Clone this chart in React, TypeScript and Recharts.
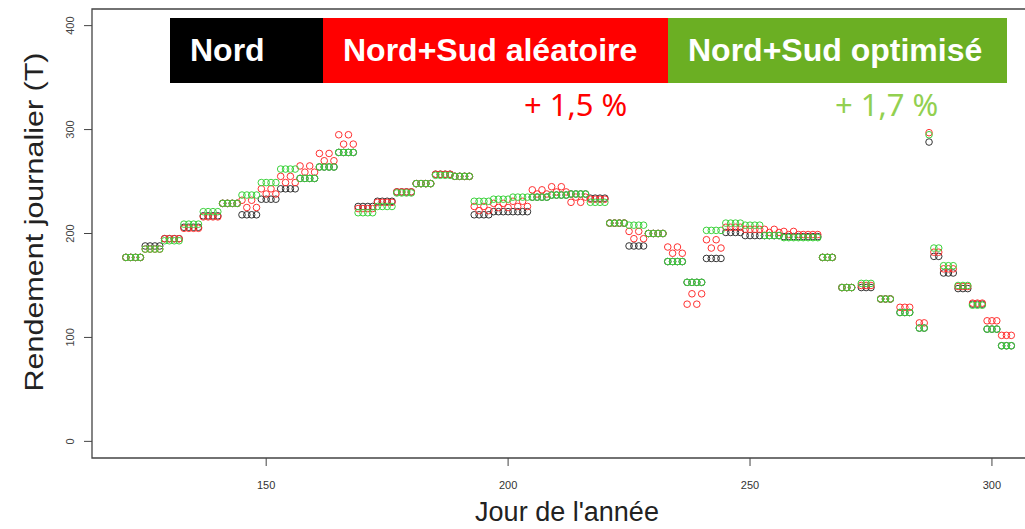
import { ScatterChart, Scatter, XAxis, YAxis, ReferenceArea } from 'recharts';

// jours de l'année (axe x)
const days = [
  121, 122, 123, 124, 125, 126, 127, 128, 129, 130, 131, 132,
  133, 134, 135, 136, 137, 138, 139, 140, 141, 142, 143, 144,
  145, 146, 147, 148, 149, 150, 151, 152, 153, 154, 155, 156,
  157, 158, 159, 160, 161, 162, 163, 164, 165, 166, 167, 168,
  169, 170, 171, 172, 173, 174, 175, 176, 177, 178, 179, 180,
  181, 182, 183, 184, 185, 186, 187, 188, 189, 190, 191, 192,
  193, 194, 195, 196, 197, 198, 199, 200, 201, 202, 203, 204,
  205, 206, 207, 208, 209, 210, 211, 212, 213, 214, 215, 216,
  217, 218, 219, 220, 221, 222, 223, 224, 225, 226, 227, 228,
  229, 230, 231, 232, 233, 234, 235, 236, 237, 238, 239, 240,
  241, 242, 243, 244, 245, 246, 247, 248, 249, 250, 251, 252,
  253, 254, 255, 256, 257, 258, 259, 260, 261, 262, 263, 264,
  265, 266, 267, 269, 270, 271, 273, 274, 275, 277, 278, 279,
  281, 282, 283, 285, 286, 287, 288, 289, 290, 291, 292,
  293, 294, 295, 296, 297, 298, 299, 300, 301, 302, 303, 304,
];

const nord = [
  177, 177, 177, 177, 188, 188, 188, 188, 195, 195, 195, 195,
  206, 206, 206, 206, 217, 217, 217, 217, 229, 229, 229, 229,
  218, 218, 218, 218, 233, 233, 233, 233, 243, 243, 243, 243,
  253, 253, 253, 253, 264, 264, 264, 264, 278, 278, 278, 278,
  226, 226, 226, 226, 231, 231, 231, 231, 240, 240, 240, 240,
  248, 248, 248, 248, 257, 257, 257, 257, 255, 255, 255, 255,
  218, 218, 218, 218, 221, 221, 221, 221, 221, 221, 221, 221,
  235, 235, 235, 235, 237, 237, 237, 237, 238, 238, 238, 238,
  234, 234, 234, 234, 210, 210, 210, 210, 188, 188, 188, 188,
  200, 200, 200, 200, 173, 173, 173, 173, 153, 153, 153, 153,
  176, 176, 176, 176, 201, 201, 201, 201, 198, 198, 198, 198,
  198, 198, 198, 198, 197, 197, 197, 197, 197, 197, 197, 197,
  177, 177, 177, 148, 148, 148, 148, 148, 148, 137, 137, 137,
  124, 124, 124, 109, 109, 288, 178, 178, 162, 162, 162,
  147, 147, 147, 132, 132, 132, 108, 108, 108, 92, 92, 92,
];

const aleatoire = [
  177, 177, 177, 177, 185, 185, 185, 185, 195, 195, 195, 195,
  205, 205, 205, 205, 216, 216, 216, 216, 229, 229, 229, 229,
  232, 225, 232, 225, 243, 238, 243, 238, 255, 249, 255, 249,
  265, 259, 265, 259, 277, 270, 277, 270, 295, 286, 295, 286,
  224, 224, 224, 224, 230, 230, 230, 230, 240, 240, 240, 240,
  248, 248, 248, 248, 257, 257, 257, 257, 255, 255, 255, 255,
  226, 222, 226, 222, 229, 225, 229, 225, 231, 226, 231, 226,
  242, 238, 242, 238, 245, 240, 245, 240, 230, 235, 230, 235,
  233, 233, 233, 233, 210, 210, 210, 210, 202, 195, 202, 195,
  200, 200, 200, 200, 187, 181, 187, 181, 132, 142, 132, 142,
  194, 186, 194, 186, 206, 206, 206, 206, 204, 204, 204, 204,
  204, 201, 204, 201, 202, 199, 202, 199, 199, 199, 199, 199,
  177, 177, 177, 148, 148, 148, 150, 150, 150, 137, 137, 137,
  129, 129, 129, 114, 114, 297, 182, 182, 166, 166, 166,
  149, 149, 149, 133, 133, 133, 116, 116, 116, 102, 102, 102,
];

const optimise = [
  177, 177, 177, 177, 185, 185, 185, 185, 193, 193, 193, 193,
  209, 209, 209, 209, 221, 221, 221, 221, 229, 229, 229, 229,
  237, 237, 237, 237, 249, 249, 249, 249, 262, 262, 262, 262,
  253, 253, 253, 253, 264, 264, 264, 264, 278, 278, 278, 278,
  220, 220, 220, 220, 226, 226, 226, 226, 239, 239, 239, 239,
  248, 248, 248, 248, 256, 256, 256, 256, 255, 255, 255, 255,
  231, 231, 231, 231, 233, 233, 233, 233, 235, 235, 235, 235,
  235, 235, 235, 235, 237, 237, 237, 237, 238, 238, 238, 238,
  230, 230, 230, 230, 210, 210, 210, 210, 208, 208, 208, 208,
  200, 200, 200, 200, 173, 173, 173, 173, 153, 153, 153, 153,
  203, 203, 203, 203, 210, 210, 210, 210, 208, 208, 208, 208,
  198, 198, 198, 198, 196, 196, 196, 196, 196, 196, 196, 196,
  177, 177, 177, 148, 148, 148, 152, 152, 152, 137, 137, 137,
  124, 124, 124, 109, 109, 295, 186, 186, 169, 169, 169,
  150, 150, 150, 131, 131, 131, 108, 108, 108, 92, 92, 92,
];

const xTicks = [150, 200, 250, 300];
const yTicks = [0, 100, 200, 300, 400];

const FONT = 'Liberation Sans, Arial, sans-serif';

const toPoints = (vals: number[]) => days.map((d, i) => ({ day: d, v: vals[i] }));

const ring = (color: string) => (props: any) => (
  <circle cx={props.cx} cy={props.cy} r={3.3} fill="none" stroke={color} strokeWidth={1} />
);

const YTick = ({ x, y, payload }: any) => (
  <g transform={`translate(${x - 12},${y}) rotate(-90)`}>
    <text textAnchor="middle" dominantBaseline="central" fontSize={11} fill="#444" fontFamily={FONT}>
      {payload.value}
    </text>
  </g>
);

const XTick = ({ x, y, payload }: any) => (
  <text x={x} y={y + 5} textAnchor="middle" dominantBaseline="central" fontSize={11} fill="#333" stroke="none" fontFamily={FONT}>
    {payload.value}
  </text>
);

const banner = { position: 'absolute' as const, top: 18, height: 65, color: '#fff', fontWeight: 700, fontSize: 32, fontFamily: FONT, display: 'flex', alignItems: 'center', paddingLeft: 20, boxSizing: 'border-box' as const, whiteSpace: 'nowrap' as const };

export default function App() {
  return (
    <div style={{ position: 'fixed', top: 0, left: 0, width: 1025, height: 529, overflow: 'hidden', background: '#fff' }}>
      <ScatterChart width={1050} height={529} margin={{ top: 9, right: 0, bottom: 0, left: 0 }}>
        <XAxis
          type="number"
          dataKey="day"
          domain={[114, 312]}
          ticks={xTicks}
          allowDataOverflow
          axisLine={false}
          tickSize={8}
          tickMargin={14}
          height={71}
          tickLine={{ stroke: '#444' }}
          tick={<XTick />}
        />
        <YAxis
          type="number"
          dataKey="v"
          domain={[-16, 416]}
          ticks={yTicks}
          allowDataOverflow
          axisLine={false}
          tickSize={8}
          tickMargin={2}
          width={92}
          tickLine={{ stroke: '#444' }}
          tick={<YTick />}
        />
        <ReferenceArea x1={114} x2={312} y1={-16} y2={416} fill="none" stroke="#444" strokeWidth={1.3} ifOverflow="visible" />
        <Scatter data={toPoints(nord)} shape={ring('#333333')} isAnimationActive={false} />
        <Scatter data={toPoints(aleatoire)} shape={ring('#ff3030')} isAnimationActive={false} />
        <Scatter data={toPoints(optimise)} shape={ring('#3cd23c')} isAnimationActive={false} />
      </ScatterChart>

      <div style={{ ...banner, left: 170, width: 153, background: '#000' }}>Nord</div>
      <div style={{ ...banner, left: 323, width: 345, background: '#ff0000' }}>Nord+Sud aléatoire</div>
      <div style={{ ...banner, left: 668, width: 339, background: '#6baf23' }}>Nord+Sud optimisé</div>

      <div style={{ position: 'absolute', left: 524, top: 83, fontSize: 31, color: '#ff0000', fontFamily: 'Noto Sans, sans-serif', whiteSpace: 'nowrap' }}>+ 1,5 %</div>
      <div style={{ position: 'absolute', left: 835, top: 83, fontSize: 31, color: '#92d050', fontFamily: 'Noto Sans, sans-serif', whiteSpace: 'nowrap' }}>+ 1,7 %</div>

      <div style={{ position: 'absolute', left: 567, top: 512, width: 0, height: 0 }}>
        <div style={{ position: 'absolute', transform: 'translate(-50%, -50%)', fontSize: 27, color: '#222', fontFamily: FONT, whiteSpace: 'nowrap' }}>
          Jour de l'année
        </div>
      </div>
      <div style={{ position: 'absolute', left: 34, top: 222, width: 0, height: 0 }}>
        <div style={{ position: 'absolute', transform: 'translate(-50%, -50%) rotate(-90deg) scaleX(1.22)', fontSize: 25, color: '#222', fontFamily: FONT, whiteSpace: 'nowrap' }}>
          Rendement journalier (T)
        </div>
      </div>
    </div>
  );
}
